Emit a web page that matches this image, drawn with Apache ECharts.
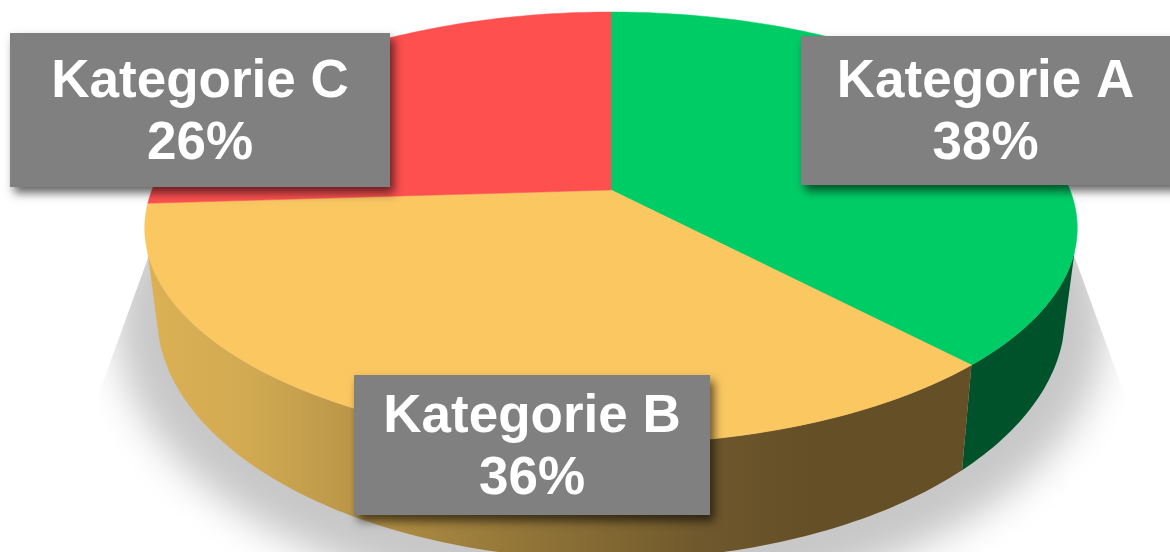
<!DOCTYPE html>
<html>
<head>
<meta charset="utf-8">
<title>Kategorie</title>
<style>
  html, body { margin: 0; padding: 0; background: #fff; }
  #chart { width: 1170px; height: 552px; }
</style>
<script src="https://cdn.jsdelivr.net/npm/echarts@6/dist/echarts.min.js"></script>
</head>
<body>
<div id="chart"></div>
<script>
// data
const categories = ['Kategorie A', 'Kategorie B', 'Kategorie C'];
const shares = [38, 36, 26];

// styles, same order as categories
const topColors = ['#00cc66', '#fac761', '#ff5050'];
const wallColors = [
  '#00522a',
  [[0, '#dcb155'], [0.12, '#d2aa52'], [0.25, '#ba9648'], [0.32, '#a98840'], [0.67, '#6f582c'], [0.8, '#654f27'], [1, '#654f27']],
  '#a03030'
];
const labelBoxes = [
  { x: 801, y: 36, w: 375, h: 149 },
  { x: 354, y: 375, w: 356, h: 140 },
  { x: 10, y: 33, w: 380, h: 154 }
];

// the pie is a flat disc seen in perspective, so each ring is a projected circle
const tilt = 0.176;
const topRing = { cx: 611, cy: 190, rx: 459, ry: 209.3 };
const bottomRing = { cx: 611, cy: 272, rx: 447, ry: 237 };
const shadowRing = { cx: 611, cy: 272, rx: 487, ry: 277 };
const offscreen = 3000;
// part of the rim that faces the viewer, degrees clockwise from 12 o'clock
const wallFrom = 106;
const wallTo = 254;

function project(ring, deg) {
  const a = deg * Math.PI / 180;
  const u = Math.sin(a);
  const v = -Math.cos(a);
  const w = 1 - tilt * v;
  return [ring.cx + ring.rx * u / w, ring.cy + ring.ry * v / w];
}

function arc(ring, from, to) {
  const pts = [];
  const n = Math.max(2, Math.ceil(Math.abs(to - from)));
  for (let i = 0; i <= n; i++) {
    pts.push(project(ring, from + (to - from) * i / n));
  }
  return pts;
}

const total = shares.reduce((s, v) => s + v, 0);
let running = 0;
const sliceData = shares.map((v, i) => {
  const row = [i, running, v];
  running += v;
  return row;
});

function sliceAngles(api) {
  const start = api.value(1) / total * 360;
  return [start, start + api.value(2) / total * 360];
}

// only the blur is wanted, the ring itself sits outside the canvas
function renderShadow() {
  return {
    type: 'group',
    clipPath: {
      type: 'polygon',
      shape: { points: [[148, 258], [1075, 258], [1190, 575], [33, 575]] }
    },
    children: [{
      type: 'polygon',
      shape: { points: arc(shadowRing, 0, 360).map(p => [p[0] - offscreen, p[1]]) },
      style: { fill: '#000', shadowBlur: 38, shadowOffsetX: offscreen, shadowColor: '#c8c8c8' }
    }]
  };
}

function renderWall(params, api) {
  const angles = sliceAngles(api);
  const from = Math.max(angles[0], wallFrom);
  const to = Math.min(angles[1], wallTo);
  if (to <= from) return null;
  const c = wallColors[api.value(0)];
  const fill = Array.isArray(c)
    ? new echarts.graphic.LinearGradient(0, 0, 1, 0, c.map(s => ({ offset: s[0], color: s[1] })))
    : c;
  return {
    type: 'polygon',
    shape: { points: arc(topRing, from, to).concat(arc(bottomRing, to, from)) },
    style: { fill: fill }
  };
}

function renderTop(params, api) {
  const angles = sliceAngles(api);
  const color = topColors[api.value(0)];
  return {
    type: 'polygon',
    shape: { points: [[topRing.cx, topRing.cy]].concat(arc(topRing, angles[0], angles[1])) },
    style: { fill: color, stroke: color, lineWidth: 0.5 }
  };
}

function renderLabel(params, api) {
  const i = api.value(0);
  const b = labelBoxes[i];
  return {
    type: 'group',
    children: [{
      type: 'rect',
      shape: { x: b.x, y: b.y, width: b.w, height: b.h },
      style: {
        fill: '#808080',
        shadowBlur: 9,
        shadowOffsetX: 4,
        shadowOffsetY: 6,
        shadowColor: 'rgba(0,0,0,0.6)'
      }
    }, {
      type: 'text',
      x: i === 0 ? 985.5 : b.x + b.w / 2,
      y: b.y + b.h / 2 + 3,
      style: {
        text: categories[i] + '\n' + api.value(2) + '%',
        fill: '#fff',
        font: 'bold 53px "Liberation Sans", Arial, sans-serif',
        lineHeight: 62,
        align: 'center',
        verticalAlign: 'middle'
      }
    }]
  };
}

function customSeries(renderItem) {
  return {
    type: 'custom',
    coordinateSystem: 'none',
    silent: true,
    animation: false,
    clip: false,
    data: sliceData,
    renderItem: renderItem
  };
}

const chart = echarts.init(document.getElementById('chart'), null, { renderer: 'canvas' });
chart.setOption({
  backgroundColor: '#fff',
  animation: false,
  series: [
    Object.assign(customSeries(renderShadow), { data: [[0, 0, 0]] }),
    customSeries(renderWall),
    customSeries(renderTop),
    customSeries(renderLabel)
  ]
});
</script>
</body>
</html>
